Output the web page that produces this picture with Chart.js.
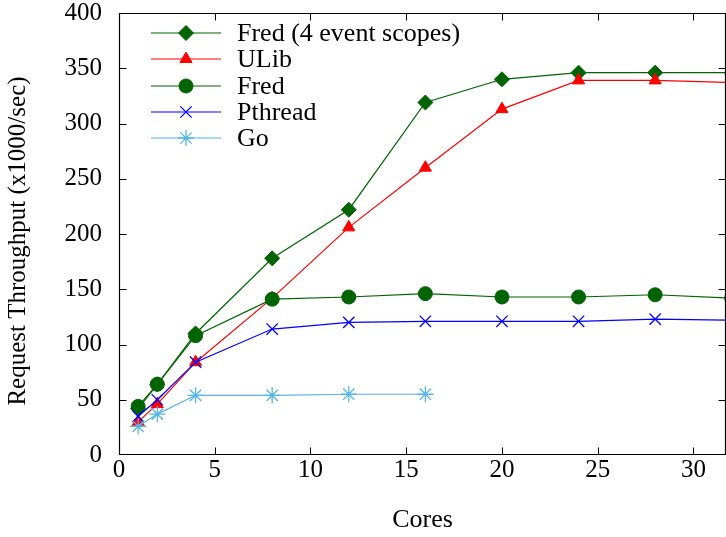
<!DOCTYPE html>
<html>
<head>
<meta charset="utf-8">
<script src="https://cdn.jsdelivr.net/npm/chart.js@4"></script>
<style>
  html, body { margin: 0; padding: 0; background: #fff; }
  #wrap { width: 726px; height: 537px; }
</style>
</head>
<body>
<div id="wrap"><canvas id="myChart" width="726" height="537"></canvas></div>
<script>
// values
let cores = [1, 2, 4, 8, 12, 16, 20, 24, 28, 32];
let goCores = [1, 2, 4, 8, 12, 16];
let fred4 = [42, 64, 110, 178, 222, 319, 340, 346, 346, 346];
let ulib = [30, 46, 84, 142, 206, 260, 313, 339, 339, 337];
let fred = [44, 64, 108, 141, 143, 146, 143, 143, 145, 142];
let pthread = [35, 50, 84, 114, 120, 121, 121, 121, 123, 122];
let goVals = [26, 37, 54, 54, 55, 55];
let xTicks = [0, 5, 10, 15, 20, 25, 30];
let yTicks = [0, 50, 100, 150, 200, 250, 300, 350, 400];
let yTitle = 'Request Throughput (x1000/sec)';

let fontFam = '"Liberation Serif", "DejaVu Serif", serif';
let tickFont = { family: fontFam, size: 25 };

function pts(xs, ys) {
    return xs.map((x, i) => ({ x: x, y: ys[i] }));
}

function series(label, xs, ys, color, style, radius, order) {
    let filled = style !== 'crossRot' && style !== 'star';
    return {
        label: label,
        data: pts(xs, ys),
        borderColor: color,
        backgroundColor: color,
        borderWidth: 1.2,
        pointStyle: style,
        pointRadius: radius,
        pointHoverRadius: radius,
        pointBorderWidth: filled ? 1 : 1.3,
        pointBackgroundColor: color,
        pointBorderColor: color,
        tension: 0,
        order: order
    };
}

// gnuplot-like frame with inward ticks, y title and legend inside the plot
const framePlugin = {
    id: 'frame',
    afterDraw(chart) {
        let c = chart.ctx, a = chart.chartArea;
        let xs = chart.scales.x, ys = chart.scales.y;
        let L = a.left + 0.5, R = a.right - 0.5, T = a.top + 0.5, B = a.bottom - 0.5;
        c.save();
        c.strokeStyle = '#000';
        c.lineWidth = 1.2;
        c.beginPath();
        c.rect(L, T, R - L, B - T);
        c.stroke();
        c.lineWidth = 1;
        c.beginPath();
        let tl = 7;
        xTicks.forEach(v => {
            let px = Math.round(xs.getPixelForValue(v)) + 0.5;
            if (v > 0) {
                c.moveTo(px, B); c.lineTo(px, B - tl);
                c.moveTo(px, T); c.lineTo(px, T + tl);
            }
        });
        yTicks.forEach(v => {
            let py = Math.round(ys.getPixelForValue(v)) + 0.5;
            if (v > 0 && v < 400) {
                c.moveTo(L, py); c.lineTo(L + tl, py);
                c.moveTo(R, py); c.lineTo(R - tl, py);
            }
        });
        c.stroke();

        // y axis title (sits a bit below the middle of the axis)
        c.save();
        c.translate(18, 241);
        c.rotate(-Math.PI / 2);
        c.fillStyle = '#000';
        c.font = '25px ' + fontFam;
        c.textAlign = 'center';
        c.textBaseline = 'middle';
        c.fillText(yTitle, 0, 0);
        c.restore();

        // legend
        let rowY = [33, 59, 86, 112, 138];
        chart.data.datasets.forEach((ds, i) => {
            let y = rowY[i];
            c.strokeStyle = ds.borderColor;
            c.lineWidth = ds.borderWidth;
            c.beginPath();
            c.moveTo(151, y);
            c.lineTo(221, y);
            c.stroke();
            c.fillStyle = ds.pointBackgroundColor;
            c.strokeStyle = ds.pointBorderColor;
            c.lineWidth = ds.pointBorderWidth;
            Chart.helpers.drawPoint(c, {
                pointStyle: ds.pointStyle,
                radius: ds.pointRadius,
                rotation: 0,
                borderWidth: ds.pointBorderWidth
            }, 186, y);
            c.fillStyle = '#000';
            c.font = '26px ' + fontFam;
            c.textAlign = 'left';
            c.textBaseline = 'middle';
            c.fillText(ds.label, 237, y + 1);
        });
        c.restore();
    }
};

let ctx = document.getElementById('myChart').getContext('2d');
let myChart = new Chart(ctx, {
    type: 'line',
    data: {
        datasets: [
            series('Fred (4 event scopes)', cores, fred4, '#006400', 'rectRot', 7.5, 4),
            series('ULib', cores, ulib, '#ff0000', 'triangle', 7, 3),
            series('Fred', cores, fred, '#006400', 'circle', 7, 2),
            series('Pthread', cores, pthread, '#0000ff', 'crossRot', 8, 1),
            series('Go', goCores, goVals, '#56b4e9', 'star', 8, 0)
        ]
    },
    options: {
        responsive: false,
        animation: false,
        layout: { autoPadding: false, padding: { top: 13, right: 0, left: 0, bottom: 0 } },
        plugins: {
            legend: { display: false },
            tooltip: { enabled: false }
        },
        scales: {
            x: {
                type: 'linear',
                min: 0,
                max: 31.7,
                grid: { display: false, drawTicks: false },
                border: { display: false },
                afterBuildTicks: s => { s.ticks = xTicks.map(v => ({ value: v })); },
                afterFit: s => { s.height = 82; s.paddingLeft = 0; s.paddingRight = 0; },
                ticks: { color: '#000', font: tickFont, padding: 0, maxRotation: 0, autoSkip: false },
                title: {
                    display: true, text: 'Cores', color: '#000',
                    font: { family: fontFam, size: 26 }, padding: { top: 0, bottom: 1 }
                }
            },
            y: {
                min: 0,
                max: 400,
                grid: { display: false, drawTicks: false },
                border: { display: false },
                afterBuildTicks: s => { s.ticks = yTicks.map(v => ({ value: v })); },
                afterFit: s => { s.width = 119; s.paddingTop = 0; s.paddingBottom = 0; },
                ticks: { color: '#000', font: tickFont, padding: 17 },
                title: { display: false, text: yTitle }
            }
        }
    },
    plugins: [framePlugin]
});
</script>
</body>
</html>
